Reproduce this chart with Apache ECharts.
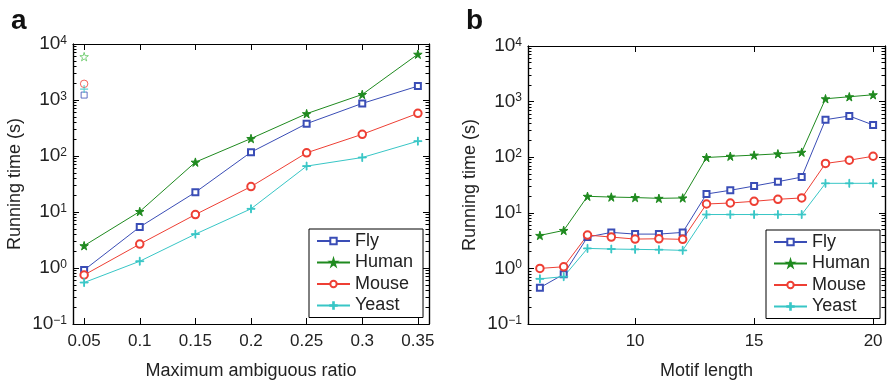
<!DOCTYPE html>
<html>
<head>
<meta charset="utf-8">
<script src="https://cdn.jsdelivr.net/npm/echarts@6/dist/echarts.min.js"></script>
<style>html,body{margin:0;padding:0;background:#fff}#c{width:889px;height:385px}</style>
</head>
<body>
<div id="c"></div>
<script>
// ---- Data ----
const seriesNames = ['Fly', 'Human', 'Mouse', 'Yeast'];
// Panel a: x = maximum ambiguous ratio
const xA = [0.05, 0.1, 0.15, 0.2, 0.25, 0.3, 0.35];
const flyA = [0.92, 5.4, 22.5, 117, 378, 869, 1770];
const humanA = [2.5, 10.2, 77.6, 205, 570, 1256, 6570];
const mouseA = [0.75, 2.67, 9.0, 28.4, 114, 244, 577];
const yeastA = [0.55, 1.32, 4.03, 11.4, 66, 94, 184];
// isolated light markers at x = 0.05 (panel a)
const extraX = 0.05;
const extraFly = 1225, extraHuman = 5940, extraMouse = 1945, extraYeast = 1567;
// Panel b: x = motif length
const xB = [6, 7, 8, 9, 10, 11, 12, 13, 14, 15, 16, 17, 18, 19, 20];
const flyB = [0.45, 0.785, 3.66, 4.44, 4.14, 4.14, 4.44, 21.8, 25.4, 30.3, 36.3, 43.9, 473, 551, 380];
const humanB = [3.92, 4.82, 19.8, 19.2, 18.8, 18.2, 18.5, 98.8, 104, 109, 115, 123, 1125, 1222, 1327];
const mouseB = [1.0, 1.07, 3.97, 3.66, 3.37, 3.41, 3.33, 14.4, 15.0, 16.1, 17.5, 18.5, 77.2, 88.4, 104];
const yeastB = [0.65, 0.71, 2.29, 2.23, 2.20, 2.17, 2.11, 9.31, 9.31, 9.31, 9.31, 9.31, 33.9, 33.9, 33.9];
// Tick labels
const xTicksA = [0.05, 0.1, 0.15, 0.2, 0.25, 0.3, 0.35];
const xTicksB = [10, 15, 20];
const yTicks = [0.1, 1, 10, 100, 1000, 10000];
const xTitleA = 'Maximum ambiguous ratio';
const xTitleB = 'Motif length';
const yTitle = 'Running time (s)';

// ---- Styling ----
const FONT = '"Liberation Sans", Arial, Helvetica, sans-serif';
const colors = { Fly: '#3a4db6', Human: '#1f8a1f', Mouse: '#ee3f34', Yeast: '#38c6c6' };
const extraColors = { Fly: '#3a4db6', Human: '#5cc65c', Mouse: '#ee3f34', Yeast: '#38c6c6' };
const STAR = 'path://M50,0 L61,35 L98,35 L68,57 L79,91 L50,70 L21,91 L32,57 L2,35 L39,35 Z';
const PLUS = 'path://M4.5,0h1v4.5h4.5v1h-4.5v4.5h-1v-4.5h-4.5v-1h4.5z';
const PLUS_BOLD = 'path://M4.3,0h1.4v4.3h4.3v1.4h-4.3v4.3h-1.4v-4.3h-4.3v-1.4h4.3z';
const symbols = { Fly: 'emptyRect', Human: STAR, Mouse: 'emptyCircle', Yeast: PLUS };
const extraSymbols = { Fly: 'rect', Human: STAR, Mouse: 'circle', Yeast: PLUS_BOLD };
const symSizes = { Fly: 6, Human: 8.5, Mouse: 7.5, Yeast: 8 };

const yMinor = [];
for (let e = -1; e < 4; e++) for (let k = 2; k <= 9; k++) yMinor.push(k * Math.pow(10, e));

function supLabel(v) {
  const e = Math.round(Math.log10(v));
  return '{b|10}{s|' + (e < 0 ? '\u2212' + (-e) : e) + '}';
}

const grids = [
  { left: 73, top: 44, right: 460, bottom: 59.7 },
  { left: 528, top: 46, right: 4, bottom: 59.7 }
];

const xAxes = [];
const yAxes = [];
function addAxes(gi, xmin, xmax, xticks, xtitle) {
  const tickCommon = { show: true, inside: true, length: 6, lineStyle: { color: '#000', width: 1 } };
  const minorTick = { show: true, inside: true, length: 3.5, customValues: yMinor, lineStyle: { color: '#000', width: 1 } };
  const axLine = { show: true, onZero: false, lineStyle: { color: '#000', width: 1.2 } };
  xAxes.push({
    type: 'value', gridIndex: gi, min: xmin, max: xmax, position: 'bottom',
    axisLine: axLine,
    axisTick: Object.assign({ customValues: xticks }, tickCommon),
    axisLabel: { customValues: xticks, fontSize: 17, color: '#222', fontFamily: FONT, margin: 9 },
    splitLine: { show: false },
    name: xtitle, nameLocation: 'middle', nameGap: 38,
    nameTextStyle: { fontSize: 18, color: '#222', fontFamily: FONT }
  });
  xAxes.push({
    type: 'value', gridIndex: gi, min: xmin, max: xmax, position: 'top',
    axisLine: axLine,
    axisTick: Object.assign({ customValues: xticks }, tickCommon),
    axisLabel: { show: false }, splitLine: { show: false }
  });
  const yBase = { type: 'log', logBase: 10, gridIndex: gi, min: 0.1, max: 10000, splitLine: { show: false } };
  yAxes.push(Object.assign({}, yBase, {
    position: 'left',
    axisLine: axLine,
    axisTick: Object.assign({ customValues: yTicks }, tickCommon),
    axisLabel: {
      customValues: yTicks, formatter: supLabel, margin: 6, color: '#222',
      rich: {
        b: { fontSize: 19, lineHeight: 19, verticalAlign: 'bottom', color: '#222', fontFamily: FONT },
        s: { fontSize: 12, lineHeight: 12, verticalAlign: 'top', padding: [0, 0, 14, 0], color: '#222', fontFamily: FONT }
      }
    },
    name: yTitle, nameLocation: 'middle', nameGap: 49, nameRotate: 90,
    nameTextStyle: { fontSize: 18, color: '#222', fontFamily: FONT }
  }));
  yAxes.push(Object.assign({}, yBase, {
    position: 'left', axisLine: axLine,
    axisTick: minorTick,
    axisLabel: { show: false }
  }));
  yAxes.push(Object.assign({}, yBase, {
    position: 'right',
    axisLine: axLine,
    axisTick: Object.assign({ customValues: yTicks }, tickCommon),
    axisLabel: { show: false }
  }));
  yAxes.push(Object.assign({}, yBase, {
    position: 'right', axisLine: axLine,
    axisTick: minorTick,
    axisLabel: { show: false }
  }));
}
addAxes(0, 0.04, 0.36, xTicksA, xTitleA);
addAxes(1, 5.5, 20.5, xTicksB, xTitleB);

function lineSeries(name, xs, ys, xi, yi) {
  const c = colors[name];
  return {
    name: name, type: 'line', xAxisIndex: xi, yAxisIndex: yi,
    data: xs.map((x, i) => [x, ys[i]]),
    symbol: symbols[name], symbolSize: symSizes[name], showAllSymbol: true,
    lineStyle: { color: c, width: 1 },
    itemStyle: { color: c, borderColor: c, borderWidth: 1 },
    emphasis: { disabled: true }, animation: false, z: 3
  };
}
function extraSeries(name, v) {
  const c = extraColors[name];
  const filled = (name === 'Yeast');
  return {
    name: name + ' (other)', type: 'scatter', xAxisIndex: 0, yAxisIndex: 0,
    data: [[extraX, v]], symbol: extraSymbols[name], symbolSize: symSizes[name],
    itemStyle: { color: filled ? c : 'rgba(0,0,0,0)', borderColor: c, borderWidth: filled ? 0 : 1 },
    emphasis: { disabled: true }, animation: false, z: filled ? 6 : 4
  };
}

const series = [
  lineSeries('Fly', xA, flyA, 0, 0),
  lineSeries('Human', xA, humanA, 0, 0),
  lineSeries('Mouse', xA, mouseA, 0, 0),
  lineSeries('Yeast', xA, yeastA, 0, 0),
  extraSeries('Human', extraHuman),
  extraSeries('Mouse', extraMouse),
  extraSeries('Fly', extraFly),
  extraSeries('Yeast', extraYeast),
  lineSeries('Fly', xB, flyB, 2, 4),
  lineSeries('Human', xB, humanB, 2, 4),
  lineSeries('Mouse', xB, mouseB, 2, 4),
  lineSeries('Yeast', xB, yeastB, 2, 4)
];

const legendCommon = {
  data: seriesNames, orient: 'vertical', itemWidth: 33, itemHeight: 8, itemGap: 1.5,
  borderColor: '#000', borderWidth: 1, borderRadius: 0, padding: [2, 10, 2, 7],
  backgroundColor: '#fff', selectedMode: false,
  textStyle: { fontSize: 18, lineHeight: 20, color: '#222', fontFamily: FONT }
};

const option = {
  backgroundColor: '#fff',
  animation: false,
  textStyle: { fontFamily: FONT },
  title: [
    { text: 'a', left: 6, top: 2, textStyle: { fontSize: 28, fontWeight: 'bold', color: '#111', fontFamily: FONT } },
    { text: 'b', left: 461, top: 2, textStyle: { fontSize: 28, fontWeight: 'bold', color: '#111', fontFamily: FONT } }
  ],
  grid: grids,
  xAxis: xAxes,
  yAxis: yAxes,
  legend: [
    Object.assign({ left: 309, top: 229 }, legendCommon),
    Object.assign({ left: 766, top: 230 }, legendCommon)
  ],
  series: series
};

const chart = echarts.init(document.getElementById('c'), null, { renderer: 'canvas' });
chart.setOption(option);
</script>
</body>
</html>
